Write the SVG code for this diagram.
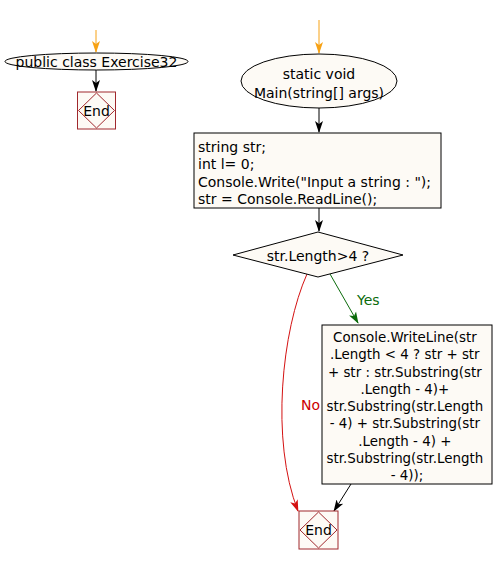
<svg xmlns="http://www.w3.org/2000/svg" width="495" height="564" viewBox="0 0 495 564">
<defs>
<style>
text{font-family:"DejaVu Sans","Liberation Sans",sans-serif;font-size:14px;fill:#000}
.small{font-size:13.4px}
.node{fill:#fdfaf5;stroke:#000;stroke-width:1}
.endbox{fill:#fdfaf5;stroke:#a0282d;stroke-width:1}
.c{fill:none;stroke-width:1}
</style>
<marker id="ab" markerWidth="12" markerHeight="10" refX="11" refY="5" orient="auto" markerUnits="userSpaceOnUse"><path d="M0,1 L12,5 L0,9 L3,5 z" fill="#000"/></marker>
<marker id="ao" markerWidth="12" markerHeight="10" refX="11" refY="5" orient="auto" markerUnits="userSpaceOnUse"><path d="M0,1 L12,5 L0,9 L3,5 z" fill="#f7a215"/></marker>
<marker id="ag" markerWidth="12" markerHeight="10" refX="11" refY="5" orient="auto" markerUnits="userSpaceOnUse"><path d="M0,1 L12,5 L0,9 L3,5 z" fill="#0b6b0b"/></marker>
<marker id="ar" markerWidth="12" markerHeight="10" refX="11" refY="5" orient="auto" markerUnits="userSpaceOnUse"><path d="M0,1 L12,5 L0,9 L3,5 z" fill="#d41111"/></marker>
</defs>
<g id="connectors">
<path class="c" d="M96,30 L96,52" stroke="#f7a215" marker-end="url(#ao)"/>
<path class="c" d="M96,70 L96,91" stroke="#000" marker-end="url(#ab)"/>
<path class="c" d="M319,20 L319,53" stroke="#f7a215" marker-end="url(#ao)"/>
<path class="c" d="M319,108 L319,132" stroke="#000" marker-end="url(#ab)"/>
<path class="c" d="M319,208 L319,231" stroke="#000" marker-end="url(#ab)"/>
<path class="c" d="M330,274 L358,323" stroke="#0b6b0b" marker-end="url(#ag)"/>
<path class="c" d="M307,274 C282,330 270,440 298,511" stroke="#d41111" marker-end="url(#ar)"/>
<path class="c" d="M351,484 L334,511" stroke="#000" marker-end="url(#ab)"/>
<text x="357" y="305" style="fill:#0b6b0b">Yes</text>
<text x="320" y="410" text-anchor="end" style="fill:#cc0000">No</text>
</g>
<g id="class">
<ellipse class="node" cx="96.5" cy="61.5" rx="91.5" ry="8.5"/>
<text x="96.5" y="66.5" text-anchor="middle">public class Exercise32</text>
</g>
<g id="end1">
<rect class="endbox" x="77.5" y="92" width="38" height="37"/>
<polygon points="96.5,93 114.5,110.5 96.5,128 78.5,110.5" fill="none" stroke="#a0282d"/>
<text x="96.5" y="115.5" text-anchor="middle">End</text>
</g>
<g id="main">
<ellipse class="node" cx="319" cy="81" rx="78" ry="27"/>
<text text-anchor="middle"><tspan x="319" y="79">static void</tspan><tspan x="319" y="97.5">Main(string[] args)</tspan></text>
</g>
<g id="decl">
<rect class="node" x="194" y="133" width="247" height="75"/>
<text x="198" y="152">string str;</text>
<text x="198" y="169">int l= 0;</text>
<text x="198" y="186.5">Console.Write("Input a string : ");</text>
<text x="198" y="203.5">str = Console.ReadLine();</text>
</g>
<g id="cond">
<polygon class="node" points="318,232 403,255 318,277 233,255"/>
<text x="318" y="260.5" text-anchor="middle">str.Length&gt;4 ?</text>
</g>
<g id="write">
<rect class="node" x="322" y="325" width="170" height="159"/>
<text class="small" text-anchor="middle">
<tspan x="407" y="342">Console.WriteLine(str</tspan>
<tspan x="407" y="359">.Length &lt; 4 ? str + str</tspan>
<tspan x="407" y="377">+ str : str.Substring(str</tspan>
<tspan x="407" y="394">.Length - 4)+</tspan>
<tspan x="407" y="411">str.Substring(str.Length</tspan>
<tspan x="407" y="428">- 4) + str.Substring(str</tspan>
<tspan x="407" y="446">.Length - 4) +</tspan>
<tspan x="407" y="463">str.Substring(str.Length</tspan>
<tspan x="407" y="480">- 4));</tspan>
</text>
</g>
<g id="end2">
<rect class="endbox" x="299" y="511" width="39" height="38"/>
<polygon points="318.5,512 337,530 318.5,548 300,530" fill="none" stroke="#a0282d"/>
<text x="318.5" y="535" text-anchor="middle">End</text>
</g>
</svg>
